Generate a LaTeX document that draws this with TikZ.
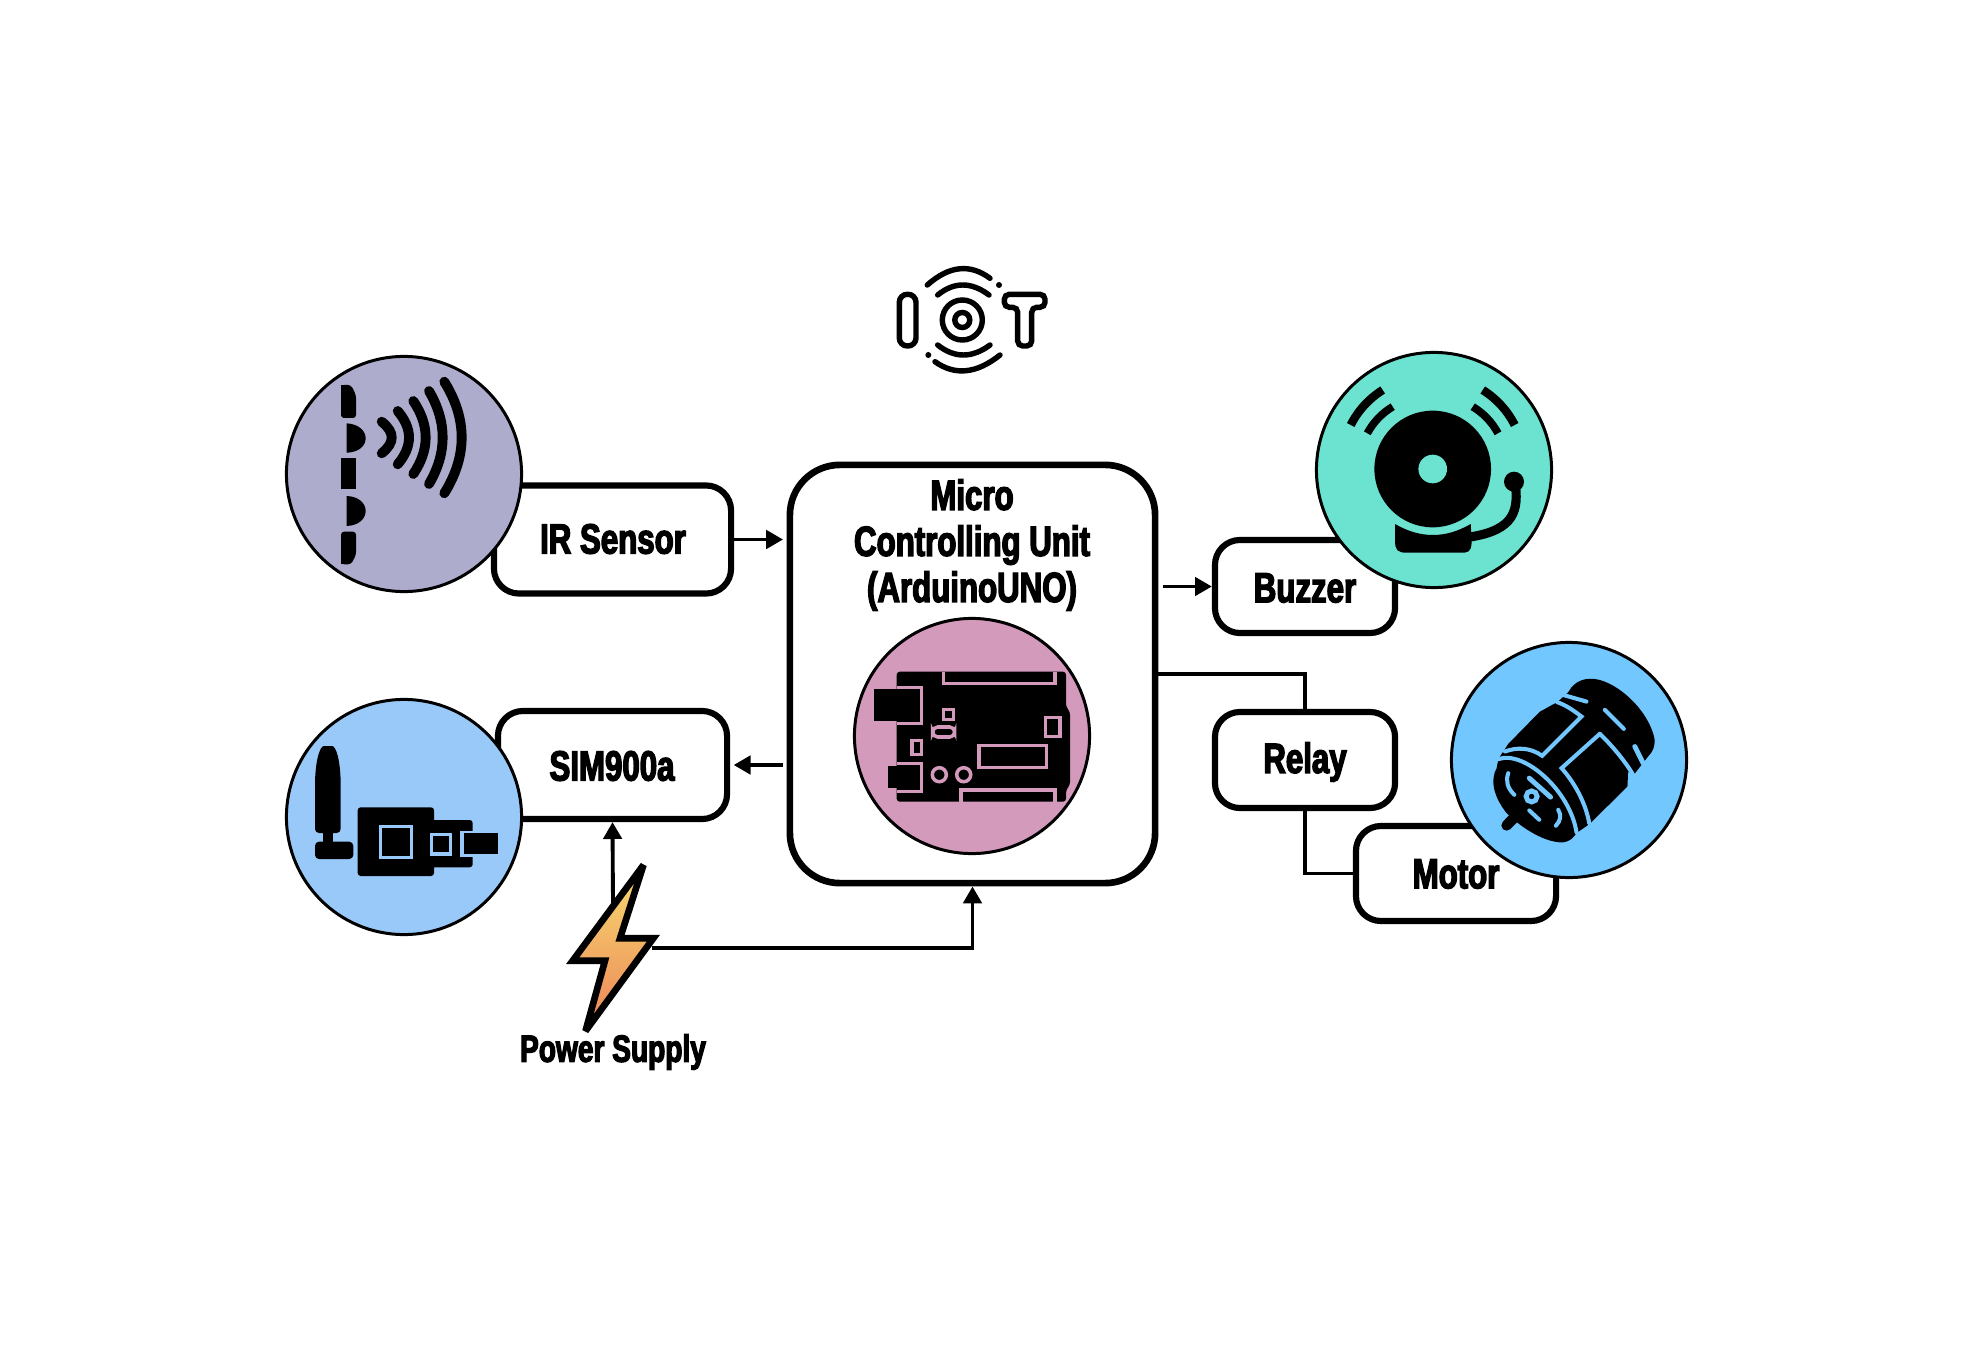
\documentclass[tikz,border=0pt]{standalone}
\usepackage{fontspec}
\usepackage{xcolor}
\usepackage{tikz}
\usetikzlibrary{arrows.meta}
\usetikzlibrary{calc}
\usetikzlibrary{positioning}
\newfontfamily\myfont[FakeStretch=0.74,FakeBold=3.2]{Liberation Sans}
\newcommand{\qarc}[3]{(#1) .. controls ($(#1)!0.667!(#2)$) and ($(#3)!0.667!(#2)$) .. (#3)}
\definecolor{irblue}{HTML}{ADACCD}
\definecolor{simblue}{HTML}{99C9F8}
\definecolor{mcupink}{HTML}{D49ABC}
\definecolor{buzzgreen}{HTML}{6CE3D0}
\definecolor{motorblue}{HTML}{73C7FF}
\definecolor{boltt}{HTML}{F8DC70}
\definecolor{boltb}{HTML}{EC8358}
\tikzset{
    mybox/.style = {rectangle, draw=black, fill=white, line width=1.75pt, rounded corners=0.25cm, inner sep=0pt},
    mycircle/.style = {circle, draw=black, line width=0.85pt, inner sep=0pt, minimum size=2.35cm},
    mylabel/.style = {font=\myfont\bfseries\fontsize{12}{13.1}\selectfont, align=center, inner sep=0pt},
    edgea/.style = {line width=1.1pt, -{Triangle[length=4.8pt,width=5.2pt]}},
    edgen/.style = {line width=1.1pt},
}
\begin{document}
\begin{tikzpicture}[x=0.01cm,y=-0.01cm]
\useasboundingbox (0,0) rectangle (1982,1358);
\node[mybox, minimum width=2.37cm, minimum height=1.08cm] at (612.5,539.5) (ir) {};
\node[mybox, minimum width=2.29cm, minimum height=1.08cm] at (612.5,765) (sim) {};
\node[mybox, minimum width=1.80cm, minimum height=0.93cm] at (1305,586.5) (buzzer) {};
\node[mybox, minimum width=1.80cm, minimum height=0.96cm] at (1305,760) (relay) {};
\node[mybox, minimum width=2.00cm, minimum height=0.95cm] at (1456,873.5) (motor) {};
\node[mybox, line width=1.9pt, rounded corners=0.5cm, minimum width=3.65cm, minimum height=4.18cm] at (972.5,674) (mcu) {};
%
\node[mycircle, fill=irblue] at (404,474) (irc) {};
\node[mycircle, fill=simblue] at (404,817) (simc) {};
\node[mycircle, fill=mcupink] at (972,736) (mcuc) {};
\node[mycircle, fill=buzzgreen] at (1434,470) (buzzc) {};
\node[mycircle, fill=motorblue] at (1569,760) (motorc) {};
%
\node[mylabel] at (613,539) (irt) {IR Sensor};
\node[mylabel] at (612,766) (simt) {SIM900a};
\node[mylabel] at (1305,588) (buzzt) {Buzzer};
\node[mylabel] at (1305,762) (relayt) {Relay};
\node[mylabel] at (1456,874) (motort) {Motor};
\node[mylabel] at (972,545) (mcut) {Micro\\Controlling Unit\\(ArduinoUNO)};
\node[mylabel, font=\myfont\bfseries\fontsize{10.8}{12}\selectfont] at (613,1052) (powert) {Power Supply};
%
\coordinate (bolta) at (613,905);
\coordinate (boltb) at (652,948);
\coordinate (mcur) at (1158,674);
\draw[edgea, shorten >=1pt] (ir.east) -- (ir.east -| mcu.west);
\draw[edgea, shorten <=1pt, shorten >=1pt] (sim.east -| mcu.west) -- (sim.east);
\draw[edgea, shorten <=1.3pt] (buzzer.west -| mcu.east) -- (buzzer.west);
\draw[edgea] (bolta) -- (sim.south);
\draw[edgea] (boltb) -| (mcu.south);
\draw[edgen] (mcur) -| (relay.north);
\draw[edgen] (relay.south) |- (motor.west);
% bolt
\draw[line width=1.9pt, miter limit=3, top color=boltt, bottom color=boltb] (643.5,865) -- (620,938.3) -- (653.3,938.3) -- (585.5,1031) -- (605,960.7) -- (572.7,960.7) -- cycle;
% iot logo
\begin{scope}[line width=1.55pt, line cap=round]
\draw[rounded corners=0.08cm] (899.3,294.3) rectangle (916,346);
\draw (962.3,320) circle[radius=0.2cm];
\draw (962.3,320) circle[radius=0.075cm];
\draw \qarc{937.7,295}{962.3,275}{989,295};
\draw \qarc{927.3,285}{960,256}{990,278.3};
\draw \qarc{937.7,345}{963,365}{990,345};
\draw \qarc{935,361.7}{965,383}{1000,355};
\fill (999,285) circle[radius=0.03cm];
\fill (928.3,355) circle[radius=0.03cm];
\draw[rounded corners=0.05cm] (1004.3,294.3) -- (1045,294.3) -- (1045,307.3) -- (1031.7,307.3) -- (1031.7,346) -- (1017.7,346) -- (1017.7,307.3) -- (1004.3,307.3) -- cycle;
\end{scope}
% ir icon
\fill[rounded corners=0.03cm] (341,385) -- (351,385) -- (356,395) -- (356,418) -- (341,418) -- cycle;
\fill (341,385) rectangle (348,395);
\fill (346.7,423.3) .. controls (372,425) and (372,452) .. (346.7,452.7) -- cycle;
\fill (341,458.3) rectangle (356,489.3);
\fill (346.7,496) .. controls (372,497) and (372,525) .. (346.7,526) -- cycle;
\fill[rounded corners=0.03cm] (341,531.7) -- (356,531.7) -- (356,555) -- (351,564.3) -- (341,564.3) -- cycle;
\fill (341,555) rectangle (348,564.3);
\begin{scope}[line width=2.8pt, line cap=round]
\draw \qarc{381.7,421.7}{401.7,437.5}{381.7,453.3};
\draw \qarc{397.7,411}{420.3,437.5}{397.7,464.3};
\draw \qarc{413.3,401}{438,437.5}{413.3,474};
\draw \qarc{429,391}{456.3,437.5}{429,484};
\draw \qarc{444.3,381.7}{479,437.5}{444.3,493.3};
\end{scope}
% sim icon
\fill[rounded corners=0.04cm] (315,833) -- (315,790) .. controls (315,760) and (320,746) .. (328,746) .. controls (336,746) and (340.7,760) .. (340.7,790) -- (340.7,833) -- cycle;
\fill (323,830) rectangle (333,845);
\fill[rounded corners=0.04cm] (315,841.7) -- (353.3,841.7) -- (353.3,859) -- (315,859) -- cycle;
\fill[rounded corners=0.03cm] (357.7,807.3) rectangle (434,876);
\fill[rounded corners=0.03cm] (425,820) rectangle (472.7,867.3);
\fill[simblue] (460,830.7) rectangle (474,857.3);
\fill (464,833.3) rectangle (498.3,854.3);
\draw[simblue, line width=0.95pt] (380.3,826.7) rectangle (411.7,857.3);
\draw[simblue, line width=0.95pt] (431.7,834.3) rectangle (450.7,854);
% mcu icon
\fill[rounded corners=0.03cm] (896.7,671.7) -- (1066,671.7) -- (1066,706.7) -- (1070,711.7) -- (1070,785) -- (1066,790) -- (1066,801.7) -- (896.7,801.7) -- cycle;
\fill (874.3,689.3) rectangle (919.3,721);
\fill (887.7,765.7) rectangle (919.3,788.3);
\begin{scope}[draw=mcupink, line width=1pt]
\draw (943.3,671.7) -- (943.3,683.3) -- (1055,683.3) -- (1055,671.7);
\draw (961,801.7) -- (961,790) -- (1055,790) -- (1055,801.7);
\draw (896.7,687.3) -- (921.7,687.3) -- (921.7,723.3) -- (896.7,723.3);
\draw (896.7,763.3) -- (921.7,763.3) -- (921.7,791.7) -- (896.7,791.7);
\draw (943.3,709.3) rectangle (953.3,719.3);
\draw[rounded corners=0.05cm] (932.7,727) rectangle (954.7,737);
\draw (912,740.3) rectangle (921.7,754.7);
\draw (939.3,774.7) circle[radius=0.07cm];
\draw (963.7,774.7) circle[radius=0.07cm];
\draw (1045.7,717.3) rectangle (1060,736.7);
\draw (979,745.3) rectangle (1046.7,767.7);
\end{scope}
% buzzer icon
\fill (1432.7,469) circle[radius=0.583cm];
\fill[buzzgreen] (1432.7,469) circle[radius=0.143cm];
\draw[line width=2.4pt] \qarc{1350.7,425}{1362,403}{1382.7,390};
\draw[line width=2.4pt] \qarc{1514.7,425}{1503.4,403}{1482.7,390};
\draw[line width=2.2pt] \qarc{1367.3,433.3}{1376.3,416.6}{1392.7,406.7};
\draw[line width=2.2pt] \qarc{1498,433.3}{1489,416.6}{1472.7,406.7};
\fill \qarc{1395,524}{1433,546}{1470.7,524} -- (1471.7,542) .. controls (1471,552.7) and (1468,552.7) .. (1460,552.7) -- (1407,552.7) .. controls (1397,552.7) and (1395,550) .. (1395,540) -- cycle;
\draw[line width=2.6pt] (1470,537) .. controls (1515,530) and (1519,510) .. (1515,482);
\fill (1514,481.7) circle[radius=0.1cm];
% motor icon
\begin{scope}[shift={(1480,660)},x=0.003333cm,y=-0.003333cm]
\draw[line width=3pt, line cap=round] (80,497) -- (130,445);
\fill (85,252) -- (180,155) .. controls (200,145) and (215,135) .. (232,127) -- (265,97) .. controls (285,60) and (320,50) .. (360,60) .. controls (430,80) and (510,160) .. (525,240) .. controls (525,260) and (520,275) .. (505,290) -- (462,345) -- (445,335) -- (443,380) -- (330,492) -- (290,520) .. controls (280,535) and (270,545) .. (250,548) .. controls (200,550) and (130,510) .. (80,460) .. controls (40,410) and (30,360) .. (50,325) .. controls (52,310) and (55,300) .. (60,290) -- cycle;
\begin{scope}[draw=motorblue, line width=1.15pt, line cap=round]
\draw (55,298) .. controls (130,270) and (270,390) .. (290,518);
\draw (360,222) -- (245,325) .. controls (290,375) and (320,440) .. (328,490);
\draw (360,222) .. controls (400,260) and (440,310) .. (460,345);
\draw \qarc{232,127}{260,135}{305,170} -- (187,288) .. controls (150,262) and (110,262) .. (75,275);
\draw (250,105) -- (320,125);
\draw (375,150) -- (432,207);
\draw[line width=1.4pt] (465,260) -- (490,310);
\draw \qarc{85,340}{72,375}{103,405};
\draw \qarc{235,450}{250,475}{228,498};
\draw[line width=1.4pt] (148,355) -- (212,412);
\draw (148,452) -- (178,480);
\draw[line width=1.4pt] (155,410) circle[radius=0.055cm];
\end{scope}
\end{scope}
\end{tikzpicture}
\end{document}
